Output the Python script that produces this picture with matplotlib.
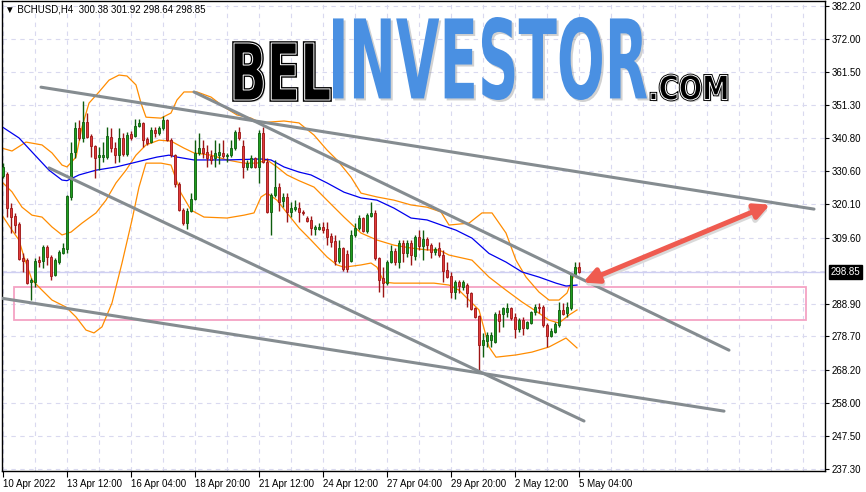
import numpy as np
import matplotlib
matplotlib.use("Agg")
import matplotlib.pyplot as plt
from matplotlib.textpath import TextPath
from matplotlib.font_manager import FontProperties
from matplotlib.patches import PathPatch, Rectangle
from matplotlib.transforms import Affine2D, blended_transform_factory

# ---------------- data ----------------
symbol_title = "\u25BC BCHUSD,H4  300.38 301.92 298.64 298.85"

opens = [329.0, 329.6, 318.9, 316.4, 313.9, 303.3, 302.6, 295.7, 295.7, 302.6,
         302.3, 306.7, 303.6, 297.9, 302.0, 304.8, 306.1, 322.4, 336.5, 344.0,
         340.9, 345.9, 341.5, 338.4, 334.9, 334.9, 334.9, 341.2, 337.7, 335.5,
         340.9, 335.8, 342.1, 341.5, 344.6, 345.6, 340.5, 339.6, 343.4, 342.4,
         344.0, 346.5, 340.2, 335.5, 326.5, 318.3, 314.2, 318.0, 321.8, 336.2,
         337.7, 336.5, 335.2, 334.6, 335.5, 336.2, 335.2, 335.5, 337.7, 342.7,
         338.4, 331.8, 331.8, 334.6, 331.8, 342.4, 333.3, 317.7, 323.0, 325.5,
         321.1, 322.4, 317.7, 318.6, 318.9, 317.7, 315.8, 315.2, 312.4, 312.4,
         313.0, 312.4, 310.2, 308.6, 302.3, 306.4, 304.5, 302.3, 310.5, 312.7,
         315.8, 311.7, 316.4, 317.4, 303.3, 297.0, 295.4, 302.0, 305.5, 302.0,
         308.0, 304.8, 308.0, 303.9, 309.8, 307.0, 309.2, 307.3, 305.1, 306.4,
         304.2, 299.5, 297.6, 292.6, 295.7, 294.2, 294.8, 292.3, 287.6, 285.1,
         276.0, 277.3, 277.6, 276.9, 285.7, 285.7, 286.4, 287.6, 284.8, 281.0,
         283.8, 281.3, 282.9, 286.4, 287.9, 287.9, 282.3, 278.8, 280.1, 282.3,
         287.0, 286.0, 287.6, 298.3, 300.38]
highs = [333.0, 330.2, 320.5, 317.4, 314.5, 304.8, 303.3, 297.0, 303.3, 303.9,
         307.3, 307.3, 304.2, 303.3, 305.8, 308.0, 323.0, 339.6, 345.9, 346.5,
         352.5, 348.7, 342.1, 338.7, 338.0, 339.6, 344.3, 344.0, 339.6, 344.0,
         342.4, 342.7, 343.1, 346.8, 346.8, 345.9, 341.2, 344.3, 344.3, 344.6,
         347.8, 346.8, 340.9, 335.8, 327.1, 318.9, 318.9, 323.6, 340.2, 342.4,
         340.2, 338.7, 337.1, 340.2, 339.3, 340.2, 336.2, 340.2, 343.4, 344.3,
         340.2, 334.0, 335.5, 334.9, 343.4, 344.3, 334.6, 323.6, 334.0, 326.8,
         323.6, 323.6, 320.8, 321.4, 320.8, 318.3, 316.4, 316.4, 313.6, 314.2,
         314.5, 314.5, 311.1, 310.5, 308.9, 306.7, 305.8, 312.0, 314.2, 316.7,
         316.1, 317.4, 320.8, 318.3, 303.6, 300.4, 302.6, 307.3, 306.4, 308.9,
         308.9, 308.9, 308.9, 310.5, 312.0, 312.0, 309.8, 308.0, 306.7, 308.3,
         305.8, 302.0, 298.9, 296.4, 296.4, 296.4, 295.4, 292.6, 287.9, 285.4,
         279.8, 280.1, 280.1, 286.4, 287.0, 287.9, 289.2, 287.9, 286.0, 284.5,
         284.8, 283.5, 286.7, 288.8, 289.2, 288.5, 282.9, 281.3, 283.2, 289.5,
         289.2, 289.5, 298.6, 302.0, 301.92]
lows = [328.3, 316.1, 311.1, 311.1, 302.6, 298.9, 295.1, 290.1, 294.2, 300.4,
        300.1, 301.1, 296.4, 297.6, 301.4, 304.5, 304.8, 321.4, 334.6, 340.2,
        339.6, 340.9, 334.9, 328.3, 330.8, 333.3, 334.3, 336.5, 333.0, 333.3,
        335.2, 335.2, 340.2, 341.2, 344.3, 338.0, 338.7, 339.3, 341.2, 341.8,
        343.4, 339.9, 334.9, 325.5, 318.0, 313.6, 312.4, 317.7, 321.4, 335.5,
        334.6, 331.8, 332.7, 331.8, 332.7, 334.6, 333.3, 334.9, 337.1, 340.2,
        328.3, 330.8, 331.5, 331.5, 326.8, 333.0, 317.4, 310.5, 322.4, 318.0,
        319.2, 314.5, 316.1, 318.0, 314.5, 316.7, 314.5, 310.5, 310.5, 312.0,
        311.1, 307.3, 306.7, 301.1, 301.7, 299.2, 298.9, 302.0, 309.8, 312.0,
        311.4, 311.1, 316.1, 302.6, 292.6, 291.0, 294.8, 301.7, 301.1, 300.1,
        302.0, 303.6, 301.1, 302.6, 305.8, 302.6, 305.8, 303.3, 304.2, 303.6,
        295.7, 297.0, 290.7, 290.4, 292.3, 293.2, 287.9, 287.0, 284.5, 267.6,
        272.2, 275.4, 275.4, 276.6, 280.1, 281.7, 284.8, 283.8, 278.2, 280.1,
        279.1, 281.0, 282.6, 285.4, 286.0, 281.7, 275.4, 278.5, 279.8, 281.7,
        285.4, 284.8, 287.0, 297.9, 298.64]
closes = [331.8, 318.9, 316.1, 313.6, 302.9, 302.3, 295.4, 296.4, 302.3, 302.0,
          306.7, 303.6, 297.6, 302.6, 305.1, 306.4, 322.7, 336.2, 344.0, 340.9,
          345.9, 341.2, 338.4, 334.6, 335.5, 335.5, 341.5, 337.7, 335.5, 340.9,
          335.8, 341.8, 340.9, 344.6, 345.6, 340.2, 339.3, 343.4, 342.4, 344.0,
          346.5, 340.2, 335.5, 326.5, 318.3, 314.2, 318.0, 321.8, 336.2, 337.7,
          336.2, 334.6, 334.0, 336.2, 336.5, 335.2, 335.5, 337.7, 342.7, 340.9,
          331.8, 333.0, 334.6, 331.8, 342.4, 333.3, 317.7, 323.0, 325.5, 320.8,
          322.4, 317.7, 318.9, 319.2, 317.7, 317.4, 314.9, 312.7, 313.0, 313.0,
          312.0, 309.8, 308.3, 302.3, 306.4, 299.8, 299.8, 310.5, 312.7, 315.8,
          311.7, 316.7, 317.4, 303.3, 296.4, 295.4, 302.0, 305.5, 302.0, 308.0,
          304.8, 308.0, 304.2, 309.8, 307.0, 309.2, 307.3, 305.1, 306.1, 304.2,
          299.2, 297.3, 292.6, 295.7, 294.5, 295.7, 292.3, 287.3, 284.8, 276.0,
          277.6, 279.1, 279.1, 285.7, 283.5, 287.6, 287.6, 284.5, 281.0, 283.8,
          281.3, 283.2, 286.4, 287.9, 287.6, 282.3, 278.8, 280.4, 282.6, 287.0,
          285.7, 287.9, 298.3, 300.4, 298.85]

# Bollinger bands (bar index, price)
bb_up_x = [-0.25, 2.25, 5.75, 9.75, 12.25, 14.75, 16, 18.25, 19.75, 21.5, 24, 26.5, 29, 31, 33.25,
           34.5, 35.75, 39.5, 42, 43.5, 45.25, 48.5, 52, 55.25, 58.5, 62, 64.5, 67, 70.25, 74,
           77.75, 81, 83.5, 87, 89.5, 93.5, 97.75, 102, 106, 109.5, 111.5, 116.5, 119.75,
           122.25, 125.75, 128.25, 130.75, 134, 136.5, 139, 141, 142.25, 143.5]
bb_up = [337.7, 336.8, 339.6, 338.7, 336.2, 332.4, 331.8, 334.9, 344.3, 351.8, 355.3, 359.0, 360.6,
         360.3, 357.5, 351.8, 347.4, 347.1, 348.7, 352.8, 355.3, 355.3, 353.7, 350.6, 348.1, 347.1,
         345.6, 345.9, 346.2, 345.6, 341.8, 337.1, 334.0, 328.6, 323.6, 322.4, 321.4, 319.9, 319.2,
         317.7, 313.6, 314.2, 317.4, 317.4, 311.1, 302.6, 297.3, 292.6, 290.1, 290.1, 292.3, 296.4,
         300.1]
bb_mid_x = [-0.25, 2.25, 4.75, 7.25, 9.75, 12.25, 14.75, 17, 19.75, 23.25, 25.75, 28.25, 30.75,
            33.25, 35.75, 39, 42, 45.25, 47.75, 52, 56, 60.25, 63.5, 66, 68.5, 71, 74, 77.75, 81,
            85.25, 89.5, 93.5, 97.75, 102, 106, 109, 111.5, 117.25, 121.5, 125.75, 129.75, 134,
            136.5, 139, 141.5, 143.5]
bb_mid = [327.1, 324.0, 319.2, 316.7, 316.1, 313.0, 310.5, 311.4, 314.2, 317.4, 321.4, 326.8,
          330.8, 335.5, 338.7, 340.2, 339.9, 337.7, 336.2, 335.5, 334.0, 333.0, 333.0, 334.0,
          331.8, 329.3, 327.5, 325.5, 321.4, 316.1, 311.1, 308.9, 307.3, 306.4, 305.8, 305.8,
          304.2, 302.6, 297.3, 293.2, 289.5, 286.0, 283.8, 282.9, 285.4, 287.0]
bb_low_x = [-0.25, 2.25, 4, 5.25, 7.25, 9.75, 12.25, 15.75, 18.25, 20.75, 22.75, 24.75, 27.25,
            29.75, 32.25, 34, 35.75, 39.5, 42, 44.5, 47, 50.25, 56, 60.25, 62.75, 64.5, 66, 68.5,
            71, 74, 77, 81, 83.5, 85.25, 89.5, 92, 93.5, 95.25, 97.75, 102, 107.75, 111.5, 114,
            119, 121.5, 123.25, 128.25, 132.25, 136.5, 140.75, 143.5]
bb_low = [316.7, 312.0, 308.9, 303.6, 296.4, 293.2, 290.1, 287.9, 284.8, 280.7, 279.8, 281.7,
          289.2, 301.7, 315.2, 325.5, 333.0, 333.0, 332.4, 323.6, 318.3, 316.1, 315.8, 316.7,
          317.4, 322.4, 323.6, 321.4, 317.4, 312.7, 308.9, 303.6, 301.1, 300.4, 301.1, 301.7,
          300.4, 295.7, 295.4, 295.4, 295.4, 294.8, 293.2, 287.0, 275.4, 272.2, 272.9, 273.8,
          275.4, 278.2, 275.1]

# moving average (blue)
ma_x = [-0.25, 4, 7.25, 11.5, 14.75, 16, 19, 23.25, 28.25, 32.25, 36.5, 38.5, 41.5, 43.5, 47.75,
        56, 64.5, 67, 70.25, 74, 77, 81, 85.25, 89.5, 93.5, 97.75, 102, 106, 110.25, 113.25,
        117.25, 121.5, 125.75, 129.75, 134, 138.25, 140.75, 143.5]
ma = [344.4, 340.9, 336.5, 330.8, 327.7, 327.5, 329.3, 330.8, 331.8, 333.0, 334.3, 334.9, 335.5,
      334.9, 334.0, 334.0, 334.3, 334.0, 331.8, 330.2, 329.3, 326.8, 323.9, 322.1, 321.4, 318.9,
      315.8, 315.2, 313.3, 312.0, 309.5, 304.7, 302.0, 298.9, 297.3, 295.4, 294.5, 294.8]

# trend lines: (bar index start, price start, bar index end, price end)
trend_lines = [(9.5, 356.8, 202.75, 318.6),
               (47.75, 355.3, 181.5, 274.4),
               (11.5, 331.5, 145.25, 252.2),
               (-1.0, 290.8, 180.25, 255.3)]
zone = (2.75, 200.75, 283.8, 294.3)     # x0, x1, price low, price high
arrow_pts = (145.0, 294.8, 191.75, 319.2)
bid = 298.85

ytick_vals = [382.20, 372.00, 361.50, 351.30, 340.80, 330.60, 320.10, 309.60,
              288.90, 278.70, 268.20, 258.00, 247.50, 237.30]
xtick_idx = [0, 16, 32, 48, 64, 80, 96, 112, 128, 144]
xtick_labels = ["10 Apr 2022", "13 Apr 12:00", "16 Apr 04:00", "18 Apr 20:00", "21 Apr 12:00",
                "24 Apr 12:00", "27 Apr 04:00", "29 Apr 20:00", "2 May 12:00", "5 May 04:00"]

# ---------------- figure ----------------
W, H = 866, 492
fig = plt.figure(figsize=(W / 100, H / 100), dpi=100)
fig.patch.set_facecolor("white")
ax = fig.add_axes([2 / W, 1 - 471 / H, 823 / W, 470 / H])
ax.set_facecolor("white")
ax.set_xlim(-0.25, 205.5)
ax.set_ylim(236.54, 383.8)

lab_font = ["Liberation Sans", "DejaVu Sans"]

# grid
grid_col = "#d9d9ef"
for v in ytick_vals + [299.1]:
    ax.axhline(v, color=grid_col, lw=0.8, ls=(0, (4, 4)), zorder=0)
for k in range(0, 201, 8):
    ax.axvline(k, color=grid_col, lw=0.8, ls=(0, (4, 4)), zorder=0)

# bid line
ax.axhline(bid, color="#cfcff2", lw=1.0, zorder=1)

# zone rectangle
ax.add_patch(Rectangle((zone[0], zone[2]), zone[1] - zone[0], zone[3] - zone[2],
                       fill=False, edgecolor="#f4a3c4", lw=1.3, zorder=1))

# indicators
band_col = "#ff8c00"
ax.plot(bb_up_x, bb_up, color=band_col, lw=0.9, zorder=2)
ax.plot(bb_mid_x, bb_mid, color=band_col, lw=0.9, zorder=2)
ax.plot(bb_low_x, bb_low, color=band_col, lw=0.9, zorder=2)
ax.plot(ma_x, ma, color="#0000ee", lw=0.9, zorder=2)

# candles
o = np.array(opens); h = np.array(highs); l = np.array(lows); c = np.array(closes)
x = np.arange(len(o))
up = c >= o
dn = ~up
g_fill, g_edge = "#1f9e1f", "#0d5c0d"
r_fill, r_edge = "#e23b3b", "#9c1414"
ax.vlines(x[up], l[up], h[up], color=g_edge, lw=1.0, zorder=3)
ax.vlines(x[dn], l[dn], h[dn], color=r_edge, lw=1.0, zorder=3)
body = np.maximum(np.abs(c - o), 0.35)
ax.bar(x[up], body[up], bottom=np.minimum(o, c)[up], width=0.72, color=g_fill,
       edgecolor=g_edge, lw=0.6, zorder=4)
ax.bar(x[dn], body[dn], bottom=np.minimum(o, c)[dn], width=0.72, color=r_fill,
       edgecolor=r_edge, lw=0.6, zorder=4)

# trend lines
for (x0, y0, x1, y1) in trend_lines:
    ax.plot([x0, x1], [y0, y1], color="#858c90", lw=2.2, solid_capstyle="round", zorder=5)

# red arrow
ax.annotate("", xy=(arrow_pts[2], arrow_pts[3]), xytext=(arrow_pts[0], arrow_pts[1]),
            arrowprops=dict(arrowstyle="<|-|>,head_length=0.9,head_width=0.45",
                            color="#d9d9d9", lw=4.0, shrinkA=0, shrinkB=0),
            zorder=5)
ax.annotate("", xy=(arrow_pts[2], arrow_pts[3] + 0.8), xytext=(arrow_pts[0], arrow_pts[1] + 0.8),
            arrowprops=dict(arrowstyle="<|-|>,head_length=0.9,head_width=0.45",
                            color="#ef5b50", lw=3.6, shrinkA=0, shrinkB=0),
            zorder=6)

# axes styling
for s in ax.spines.values():
    s.set_color("black")
    s.set_linewidth(1.0)
ax.yaxis.tick_right()
ax.set_yticks(ytick_vals)
ax.set_yticklabels([f"{v:.2f}" for v in ytick_vals])
ax.set_xticks(xtick_idx)
ax.set_xticklabels(xtick_labels)
ax.tick_params(axis="y", length=3, width=0.8, pad=2, labelsize=7, colors="black")
ax.tick_params(axis="x", length=4, width=0.8, pad=2, labelsize=7, colors="black")
for t in ax.get_xticklabels():
    t.set_horizontalalignment("left")
    t.set_family(lab_font)
for t in ax.get_yticklabels():
    t.set_family(lab_font)

# bid label
bt = blended_transform_factory(ax.transAxes, ax.transData)
ax.text(1.0 + 6 / 823, bid, f"{bid:.2f}", transform=bt, ha="left", va="center",
        fontsize=7, color="white", family=lab_font, zorder=10, clip_on=False,
        bbox=dict(facecolor="black", edgecolor="black", pad=1.2))

# title
fig.text(5 / W, 1 - 10 / H, symbol_title, ha="left", va="center", fontsize=7,
         family=lab_font, color="black")

# ---------------- logo ----------------
def logo(s, box, face, edge=None, elw=0.0, inner=None, shadow=False):
    fp = FontProperties(family="DejaVu Sans", weight="bold")
    tp = TextPath((0, 0), s, size=100, prop=fp)
    e = tp.get_extents()
    x0, y0, x1, y1 = box
    sx = (x1 - x0) / W / e.width
    sy = (y1 - y0) / H / e.height
    tr = Affine2D().translate(-e.x0, -e.y0).scale(sx, sy).translate(x0 / W, 1 - y1 / H)
    p = tr.transform_path(tp)
    if shadow:
        ps = Affine2D().translate(2 / W, -2 / H).transform_path(p)
        fig.add_artist(PathPatch(ps, transform=fig.transFigure, facecolor="#9a9a9a",
                                 edgecolor="none", alpha=0.45, zorder=20))
    fig.add_artist(PathPatch(p, transform=fig.transFigure, facecolor=face,
                             edgecolor=edge if edge else "none", lw=elw, zorder=21))
    if inner:
        fig.add_artist(PathPatch(p, transform=fig.transFigure, facecolor="none",
                                 edgecolor=inner, lw=0.7, zorder=22))

logo("BEL", (234, 43, 330, 100), "black", edge="black", elw=2.6, inner="white", shadow=True)
logo("INVESTOR", (333, 17, 647, 100), "#4a90e2", shadow=True)
logo(".COM", (651, 75, 727, 100), "black", edge="black", elw=2.0, inner="white", shadow=True)

fig.savefig("out.png", dpi=100)
